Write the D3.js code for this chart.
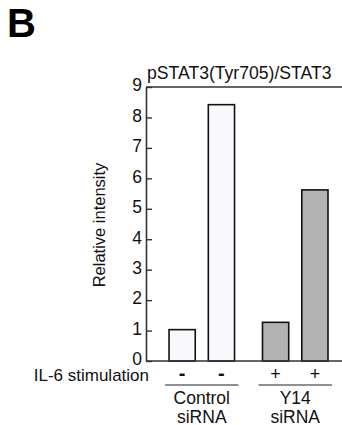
<!DOCTYPE html>
<html>
<head>
<meta charset="utf-8">
<script src="https://cdn.jsdelivr.net/npm/d3@7"></script>
<style>
  body { margin: 0; background: #fff; }
  text { font-family: Arial, "Liberation Sans", sans-serif; fill: #111; }
</style>
</head>
<body>
<svg id="svg1" width="342" height="425"></svg>
<script>
// data
var groups = ["Control", "Y14"];
var groupLabels = [["Control", "siRNA"], ["Y14", "siRNA"]];
var bars = [
  { group: "Control", pos: 0, stim: "-", value: 1.03 },
  { group: "Control", pos: 1, stim: "-", value: 8.42 },
  { group: "Y14",     pos: 0, stim: "+", value: 1.27 },
  { group: "Y14",     pos: 1, stim: "+", value: 5.62 }
];
var yTicks = [0, 1, 2, 3, 4, 5, 6, 7, 8, 9];
var title = "pSTAT3(Tyr705)/STAT3";

var svg = d3.select("#svg1"),
    margin = { top: 87, left: 146 },
    width = 196,
    height = 274;

var fills = { "Control": "#f8f8fd", "Y14": "#b3b3b3" };

// panel letter
svg.append("text")
  .attr("x", 7)
  .attr("y", 37)
  .attr("font-size", "40px")
  .attr("font-weight", "bold")
  .style("fill", "#000")
  .text("B");

var x0 = d3.scaleBand().domain(groups).range([0, width])
  .paddingInner(0.215).paddingOuter(0.156).align(0.655);
var x1 = d3.scaleBand().domain([0, 1]).range([0, x0.bandwidth()])
  .paddingInner(0.333).paddingOuter(0.1);
var y = d3.scaleLinear().domain([0, 9]).range([height, 0]);

var g = svg.append("g")
  .attr("transform", "translate(" + margin.left + "," + margin.top + ")");

// title
g.append("text")
  .attr("x", 1)
  .attr("y", -8)
  .attr("font-size", "17.6px")
  .text(title);

// bars
g.selectAll(".bar")
  .data(bars)
  .enter().append("rect")
  .attr("class", "bar")
  .attr("x", function(d) { return x0(d.group) + x1(d.pos); })
  .attr("y", function(d) { return y(d.value); })
  .attr("width", x1.bandwidth())
  .attr("height", function(d) { return height - y(d.value); })
  .attr("fill", function(d) { return fills[d.group]; })
  .attr("stroke", "#111")
  .attr("stroke-width", 1.6);

// y axis with inward ticks
var yAxis = g.append("g")
  .call(d3.axisLeft(y).tickValues(yTicks).tickSizeInner(-6).tickSizeOuter(0).tickPadding(4));
yAxis.select(".domain").attr("stroke", "#333").attr("stroke-width", 1.6);
yAxis.selectAll(".tick line").attr("stroke", "#333").attr("stroke-width", 1.4);
yAxis.selectAll(".tick text")
  .attr("font-size", "17.5px")
  .attr("font-family", "Arial, 'Liberation Sans', sans-serif")
  .attr("dy", "0.22em")
  .style("fill", "#111");

// top and bottom frame lines
g.append("line")
  .attr("x1", 0).attr("x2", width)
  .attr("y1", y(9)).attr("y2", y(9))
  .attr("stroke", "#333").attr("stroke-width", 1.6);
g.append("line")
  .attr("x1", 0).attr("x2", width)
  .attr("y1", y(0)).attr("y2", y(0))
  .attr("stroke", "#333").attr("stroke-width", 1.6);

// y label
g.append("text")
  .attr("transform", "rotate(-90)")
  .attr("x", -(y(4.5) + 1))
  .attr("y", -41)
  .attr("text-anchor", "middle")
  .attr("font-size", "16.5px")
  .text("Relative intensity");

// IL-6 row
g.append("text")
  .attr("x", 3)
  .attr("y", height + 20)
  .attr("text-anchor", "end")
  .attr("font-size", "17px")
  .text("IL-6 stimulation");

g.selectAll(".stim")
  .data(bars)
  .enter().append("text")
  .attr("class", "stim")
  .attr("x", function(d) { return x0(d.group) + x1(d.pos) + x1.bandwidth() / 2; })
  .attr("y", height + 19)
  .attr("text-anchor", "middle")
  .attr("font-size", function(d) { return d.stim === "-" ? "20px" : "18px"; })
  .attr("font-weight", function(d) { return d.stim === "-" ? "bold" : "normal"; })
  .text(function(d) { return d.stim; });

// group underline and labels
var gl = g.selectAll(".grp")
  .data(groups)
  .enter().append("g")
  .attr("class", "grp")
  .attr("transform", function(d) { return "translate(" + x0(d) + "," + (height + 24) + ")"; });

gl.append("line")
  .attr("x1", 0).attr("x2", x0.bandwidth())
  .attr("stroke", "#222").attr("stroke-width", 1.2);

gl.each(function(d, i) {
  d3.select(this).selectAll("text")
    .data(groupLabels[i])
    .enter().append("text")
    .attr("x", x0.bandwidth() / 2)
    .attr("y", function(t, j) { return 19 + j * 18.5; })
    .attr("text-anchor", "middle")
    .attr("font-size", "17.5px")
    .text(function(t) { return t; });
});
</script>
</body>
</html>
